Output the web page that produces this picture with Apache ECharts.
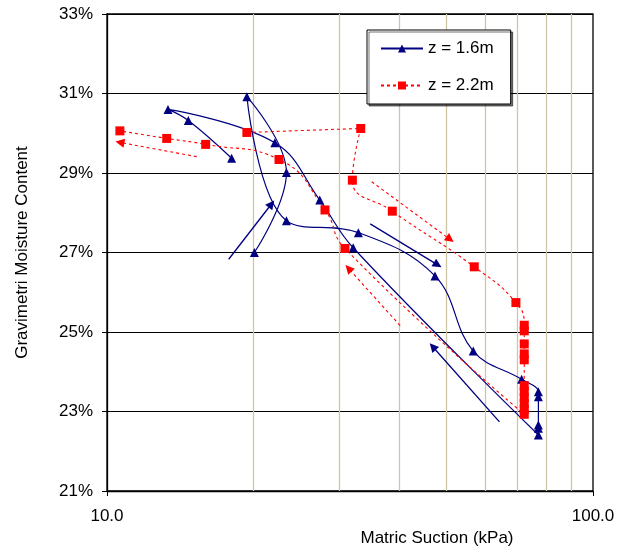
<!DOCTYPE html>
<html>
<head>
<meta charset="utf-8">
<script src="https://cdn.jsdelivr.net/npm/echarts@6/dist/echarts.min.js"></script>
<style>
  html, body { margin: 0; padding: 0; background: #fff; }
  #chart { width: 629px; height: 546px; }
</style>
</head>
<body>
<div id="chart"></div>
<script>
// z = 1.6m 量測點（依時間順序）
var suction16 = [20.1, 23.4, 19.4, 23.4, 32.9, 47.3, 56.7, 71.3, 77.2, 77.2, 77.2, 77.2, 77.2, 32.1, 27.4, 22.15, 13.35, 14.7, 18.05];
var moisture16 = [27.0, 29.01, 30.92, 27.8, 27.5, 26.41, 24.52, 23.81, 23.5, 23.37, 22.66, 22.58, 22.41, 27.12, 28.32, 29.76, 30.6, 30.32, 29.37];

// z = 2.2m 量測點
var suction22 = [19.4, 33.27, 31.98, 38.64, 56.97, 69.4, 72.2, 72.2, 72.2, 72.2, 72.2, 72.2, 72.2, 72.2, 72.2, 72.2, 72.2, 30.88, 28.09, 22.59, 15.96, 13.27, 10.63];
var moisture22 = [30.02, 30.12, 28.82, 28.04, 26.64, 25.74, 25.17, 25.03, 24.7, 24.45, 24.3, 23.65, 23.5, 23.35, 23.2, 23.05, 22.93, 27.1, 28.07, 29.34, 29.72, 29.87, 30.06];

// 箭頭 [起點, 終點]
var arrows16 = [
  [[17.8, 26.83], [21.8, 28.22]],
  [[34.8, 27.72], [47.9, 26.69]],
  [[64.2, 22.74], [46.8, 24.63]]
];
var arrows22 = [
  [[15.3, 29.41], [10.63, 29.77]],
  [[35.05, 28.78], [50.8, 27.33]],
  [[40.1, 25.16], [31.4, 26.6]]
];

// 對數軸的次格線
var minorGrid = [20, 30, 40, 50, 60, 70, 80, 90];
var yTicks = { min: 21, max: 33, step: 2 };

var font = 'Liberation Sans, Arial, sans-serif';

function zip(xs, ys) {
  return xs.map(function (x, i) { return [x, ys[i]]; });
}

function arrowData(list) {
  return list.map(function (a) {
    return [{ coord: a[0] }, { coord: a[1] }];
  });
}

var chart = echarts.init(document.getElementById('chart'));

var option = {
  backgroundColor: '#fff',
  animation: false,
  textStyle: { fontFamily: font },
  grid: {
    left: 107, right: 36, top: 14, bottom: 55,
    outerBoundsMode: 'none',
    containLabel: false,
    show: true, borderColor: '#000', borderWidth: 1.3, backgroundColor: 'transparent'
  },
  legend: {
    left: 367, top: 30,
    orient: 'vertical',
    padding: [10, 17, 10, 13],
    itemGap: 20,
    itemWidth: 42,
    itemHeight: 10,
    itemTextGap: 8,
    backgroundColor: '#fff',
    borderColor: '#000',
    borderWidth: 1,
    shadowColor: 'rgba(0,0,0,0.55)',
    shadowOffsetX: 2,
    shadowOffsetY: 2,
    shadowBlur: 0,
    textStyle: { fontSize: 17, color: '#000', fontFamily: font },
    data: ['z = 1.6m', 'z = 2.2m']
  },
  xAxis: {
    type: 'log',
    logBase: 10,
    min: 10,
    max: 100,
    name: 'Matric Suction (kPa)',
    nameLocation: 'middle',
    nameGap: 37,
    nameTextStyle: { fontSize: 17, color: '#000', padding: [0, 0, 0, 174] },
    axisLine: { lineStyle: { color: '#000', width: 1.3 } },
    axisTick: { show: true, length: 5, lineStyle: { color: '#000' } },
    axisLabel: {
      fontSize: 17, color: '#000', margin: 17,
      formatter: function (v) { return v.toFixed(1); }
    },
    splitLine: { show: false },
    minorTick: { show: false }
  },
  yAxis: {
    type: 'value',
    min: yTicks.min,
    max: yTicks.max,
    interval: yTicks.step,
    name: 'Gravimetri Moisture Content',
    nameLocation: 'middle',
    nameGap: 76,
    nameTextStyle: { fontSize: 17, color: '#000' },
    axisLine: { show: true, lineStyle: { color: '#000', width: 1.3 } },
    axisTick: { show: true, length: 5, lineStyle: { color: '#000' } },
    axisLabel: {
      fontSize: 17, color: '#000', margin: 14,
      formatter: function (v) { return v + '%'; }
    },
    splitLine: { show: true, lineStyle: { color: '#000', width: 1.2 } }
  },
  series: [
    {
      // 次格線
      name: 'grid',
      type: 'line',
      data: [],
      silent: true,
      markLine: {
        z: 1,
        silent: true,
        symbol: ['none', 'none'],
        label: { show: false },
        lineStyle: { color: '#cdc6a4', width: 1.3, type: 'solid' },
        data: minorGrid.map(function (v) { return { xAxis: v }; })
      }
    },
    {
      name: 'z = 1.6m',
      type: 'line',
      smooth: 0.4,
      showAllSymbol: true,
      symbol: 'triangle',
      symbolSize: 9,
      data: zip(suction16, moisture16),
      lineStyle: { color: '#000080', width: 1.2 },
      itemStyle: { color: '#000080' },
      markLine: {
        silent: true,
        symbol: ['none', 'triangle'],
        symbolSize: 9,
        label: { show: false },
        lineStyle: { color: '#000080', width: 1.3, type: 'solid' },
        data: arrowData(arrows16)
      }
    },
    {
      name: 'z = 2.2m',
      type: 'line',
      smooth: 0.5,
      showAllSymbol: true,
      symbol: 'rect',
      symbolSize: 9,
      data: zip(suction22, moisture22),
      lineStyle: { color: '#ff0000', width: 1.1, type: [3, 3] },
      itemStyle: { color: '#ff0000' },
      markLine: {
        silent: true,
        symbol: ['none', 'triangle'],
        symbolSize: 9,
        label: { show: false },
        lineStyle: { color: '#ff0000', width: 1.1, type: [3, 3] },
        data: arrowData(arrows22)
      }
    }
  ]
};

chart.setOption(option);
</script>
</body>
</html>
